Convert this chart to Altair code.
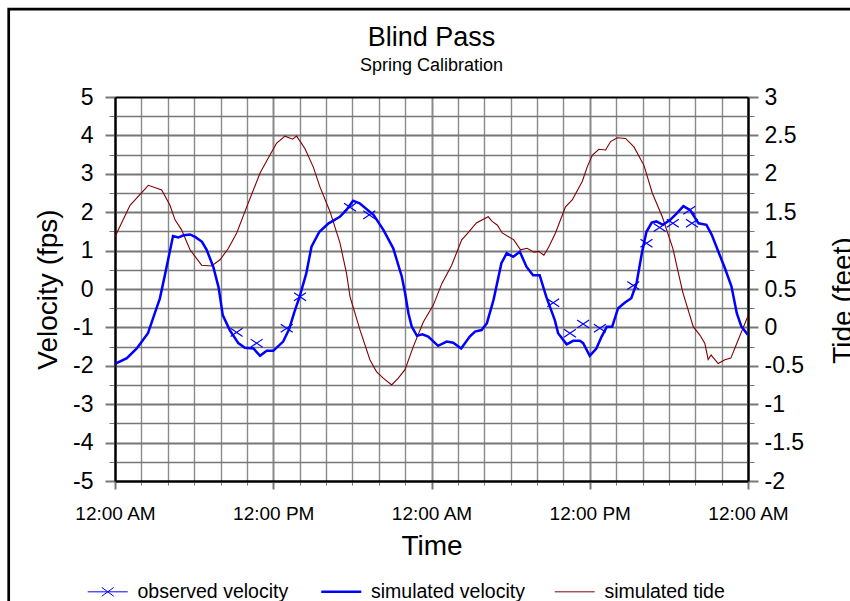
import altair as alt
import pandas as pd

FONT = "Liberation Sans"
START = pd.Timestamp("2004-03-09")

# simulated velocity (fps), hours from start
sim_vel_hours = [0.0, 0.9, 1.65, 2.5, 3.0, 3.4, 3.9, 4.4, 4.8, 5.2, 5.7, 6.1, 6.6, 6.95,
                 7.45, 7.85, 8.0, 8.17, 8.7, 9.35, 9.85, 10.5, 11.0, 11.5, 12.0, 12.75,
                 13.2, 13.6, 14.0, 14.5, 14.9, 15.5, 16.2, 17.05, 17.55, 18.05, 18.55,
                 19.6, 20.35, 21.1, 21.75, 22.0, 22.25, 22.5, 22.9, 23.3, 23.75, 24.5,
                 25.15, 25.65, 26.25, 26.9, 27.3, 27.8, 28.2, 28.7, 29.3, 29.7, 30.2,
                 30.7, 31.2, 31.7, 32.2, 32.7, 33.35, 33.6, 34.25, 34.75, 35.25, 35.5,
                 36.0, 36.5, 36.9, 37.3, 37.7, 38.15, 38.65, 39.15, 39.55, 39.95, 40.3,
                 40.7, 41.05, 41.55, 42.1, 42.6, 43.1, 43.6, 44.25, 44.85, 45.25, 46.25,
                 46.75, 47.15, 47.5, 48.0]
sim_vel = [-1.95, -1.80, -1.55, -1.15, -0.65, -0.25, 0.55, 1.38, 1.34, 1.40, 1.42, 1.35,
           1.23, 1.02, 0.58, 0.05, -0.29, -0.68, -1.07, -1.41, -1.53, -1.55, -1.74, -1.61,
           -1.61, -1.37, -1.05, -0.60, -0.20, 0.40, 1.10, 1.49, 1.71, 1.88, 2.06, 2.30,
           2.23, 1.93, 1.54, 1.06, 0.32, -0.11, -0.63, -0.98, -1.22, -1.18, -1.24, -1.48,
           -1.37, -1.40, -1.55, -1.24, -1.11, -1.07, -0.89, -0.29, 0.67, 0.93, 0.84, 0.97,
           0.58, 0.36, 0.36, -0.20, -0.81, -1.15, -1.44, -1.35, -1.35, -1.41, -1.74, -1.55,
           -1.24, -0.98, -0.98, -0.50, -0.36, -0.24, 0.15, 0.93, 1.49, 1.73, 1.76, 1.67,
           1.80, 1.97, 2.16, 2.06, 1.71, 1.67, 1.41, 0.54, 0.06, -0.63, -0.98, -1.20]

# simulated tide (feet)
tide_hours = [0.0, 1.14, 2.53, 3.54, 4.17, 4.55, 5.05, 5.69, 6.57, 7.33, 7.96, 8.6, 9.23,
              9.99, 11.0, 11.6, 12.26, 12.89, 13.47, 13.77, 14.4, 15.03, 15.54, 16.3,
              17.06, 17.56, 17.82, 18.57, 19.33, 19.84, 20.34, 20.98, 21.48, 21.99, 22.62,
              23.38, 24.14, 24.78, 25.53, 26.29, 26.77, 27.4, 28.3, 28.6, 29.0, 29.36,
              30.24, 30.75, 31.25, 31.76, 32.14, 32.52, 32.9, 33.4, 34.16, 34.67, 35.43,
              35.81, 36.19, 36.69, 37.2, 37.58, 38.09, 38.72, 39.35, 40.11, 40.74, 41.5,
              42.3, 43.05, 43.85, 44.35, 44.73, 44.98, 45.2, 45.74, 46.25, 46.7, 47.26, 48.0]
tide_ft = [1.18, 1.59, 1.85, 1.79, 1.59, 1.40, 1.27, 1.01, 0.81, 0.80, 0.88, 1.03, 1.23,
           1.57, 2.01, 2.20, 2.40, 2.49, 2.45, 2.49, 2.33, 2.09, 1.83, 1.51, 1.10, 0.70,
           0.40, -0.03, -0.42, -0.58, -0.66, -0.75, -0.66, -0.55, -0.25, 0.07, 0.29, 0.57,
           0.81, 1.14, 1.23, 1.36, 1.44, 1.38, 1.33, 1.23, 1.14, 1.01, 1.03, 0.98, 0.99,
           0.94, 1.05, 1.23, 1.57, 1.66, 1.90, 2.09, 2.24, 2.32, 2.31, 2.42, 2.47, 2.46,
           2.35, 2.11, 1.75, 1.44, 1.03, 0.46, 0.01, -0.10, -0.21, -0.42, -0.36, -0.47,
           -0.42, -0.40, -0.16, 0.15]

# observed velocity (fps)
obs_hours = [9.22, 10.74, 13.02, 14.03, 17.82, 19.28, 33.23, 34.5, 35.5, 36.77, 39.3,
             40.3, 41.3, 42.3, 43.55, 43.75]
obs_vel = [-1.13, -1.41, -1.02, -0.20, 2.13, 1.93, -0.36, -1.15, -0.91, -1.02, 0.09,
           1.19, 1.60, 1.71, 2.05, 1.71]

SERIES = ["observed velocity", "simulated velocity", "simulated tide"]
COLORS = ["#0000ff", "#0000ff", "#800000"]

vel_ticks = [v / 2 for v in range(-10, 11)]
tide_ticks = [t / 4 for t in range(-8, 13)]
time_ticks = [alt.DateTime(year=2004, month=3, date=9 + h // 24, hours=h % 24)
              for h in range(0, 49, 2)]


def stamps(hours):
    return [(START + pd.Timedelta(hours=h)).strftime("%Y-%m-%dT%H:%M:%S") for h in hours]


vel_df = pd.DataFrame({"time": stamps(sim_vel_hours), "value": sim_vel,
                       "series": "simulated velocity"})
obs_df = pd.DataFrame({"time": stamps(obs_hours), "value": obs_vel,
                       "series": "observed velocity"})
tide_df = pd.DataFrame({"time": stamps(tide_hours), "value": tide_ft,
                        "series": "simulated tide"})

GRID_MAJOR = "#777777"
GRID_MINOR = "#8a8a8a"

x_enc = alt.X(
    "time:T",
    scale=alt.Scale(domain=[time_ticks[0], time_ticks[-1]], nice=False),
    axis=alt.Axis(
        values=time_ticks,
        title="Time",
        titleFontSize=28,
        titleFontWeight="normal",
        titleX=316.5,
        titleY=73,
        titleAlign="center",
        titleBaseline="alphabetic",
        labelExpr="hours(datum.value) % 12 === 0 ? timeFormat(datum.value, '%I:%M %p') : ''",
        labelFontSize=19,
        labelPadding=15,
        labelFlush=False,
        labelOverlap=False,
        grid=True,
        gridColor={"condition": {"test": "datum.index === 0 || datum.index === 1",
                                 "value": "black"},
                   "value": GRID_MINOR},
        gridWidth={"condition": {"test": "hours(datum.value) % 12 === 0", "value": 2},
                   "value": 1.4},
        tickSize={"condition": {"test": "hours(datum.value) % 12 === 0", "value": 8},
                  "value": 4},
        tickWidth={"condition": {"test": "hours(datum.value) % 12 === 0", "value": 2},
                   "value": 1},
        tickColor=GRID_MAJOR,
        domainColor="black",
        domainWidth=2,
    ),
)

color_enc = alt.Color(
    "series:N",
    scale=alt.Scale(domain=SERIES, range=COLORS),
    legend=alt.Legend(
        title=None,
        orient="none",
        direction="horizontal",
        legendX=-17,
        legendY=484.7,
        padding=0,
        symbolType=alt.ExprRef(
            expr="datum.value === 'observed velocity' ? "
                 "'M-1,0H1M-0.3,-0.22L0.3,0.22M-0.3,0.22L0.3,-0.22' : 'stroke'"),
        symbolStrokeWidth=alt.ExprRef(
            expr="datum.value === 'simulated velocity' ? 2.5 : 1"),
        symbolSize=1600,
        labelOffset=20,
        columnPadding=26.5,
        labelFontSize=19.5,
        labelColor="black",
        labelLimit=400,
    ),
)

vel_axis = alt.Axis(
    orient="left",
    values=vel_ticks,
    title="Velocity (fps)",
    titleFontSize=28,
    titleFontWeight="normal",
    titleAngle=270,
    titleX=-59,
    titleY=192,
    titleAlign="center",
    titleBaseline="alphabetic",
    labelExpr="datum.value % 1 === 0 ? '' + datum.value : ''",
    labelFontSize=23,
    labelPadding=12,
    grid=True,
    gridColor={"condition": {"test": "datum.value === 5 || datum.value === -5",
                             "value": "black"},
               "value": GRID_MAJOR},
    gridWidth={"condition": {"test": "datum.value % 1 === 0", "value": 2.2}, "value": 1.6},
    tickSize={"condition": {"test": "datum.value % 1 === 0", "value": 10}, "value": 6},
    tickWidth={"condition": {"test": "datum.value % 1 === 0", "value": 2}, "value": 1},
    tickColor=GRID_MAJOR,
    domainColor="black",
    domainWidth=2,
)

tide_axis = alt.Axis(
    orient="right",
    values=tide_ticks,
    title="Tide (feet)",
    titleFontSize=28,
    titleFontWeight="normal",
    titleAngle=270,
    titleX=103,
    titleY=203,
    titleAlign="center",
    titleBaseline="alphabetic",
    labelExpr="(datum.value * 2) % 1 === 0 ? '' + datum.value : ''",
    labelFontSize=23,
    labelPadding=6,
    grid=False,
    tickSize={"condition": {"test": "(datum.value * 2) % 1 === 0", "value": 10},
              "value": 6},
    tickWidth={"condition": {"test": "(datum.value * 2) % 1 === 0", "value": 2},
               "value": 1},
    tickColor=GRID_MAJOR,
    domainColor="black",
    domainWidth=2,
)

vel_y = alt.Y("value:Q", scale=alt.Scale(domain=[-5, 5], nice=False, zero=False),
              axis=vel_axis)
tide_y = alt.Y("value:Q", scale=alt.Scale(domain=[-2, 3], nice=False, zero=False),
               axis=tide_axis)

sim_line = alt.Chart(vel_df).mark_line(strokeWidth=2.5).encode(
    x=x_enc, y=vel_y, color=color_enc)

obs_pts = alt.Chart(obs_df).mark_point(
    shape="M-1,-0.67L1,0.67M-1,0.67L1,-0.67", filled=False, size=144,
    strokeWidth=1.2, opacity=1,
).encode(x=x_enc, y=vel_y, color=color_enc)

# outer frame around the whole figure
frame = alt.Chart(pd.DataFrame({"k": [0]})).mark_rect(
    fill="transparent", stroke="black", strokeWidth=2.7,
).encode(x=alt.value(-106.3), x2=alt.value(790), y=alt.value(-87.8), y2=alt.value(560))

velocity = alt.layer(sim_line, obs_pts, frame)

tide = alt.Chart(tide_df).mark_line(strokeWidth=1.1).encode(
    x=x_enc, y=tide_y, color=color_enc)

chart = alt.layer(tide, velocity).resolve_scale(y="independent").properties(
    width=633,
    height=384,
    autosize=alt.AutoSizeParams(type="none"),
    padding={"left": 115, "top": 97, "right": 102, "bottom": 120},
    background="white",
    title=alt.TitleParams(
        text="Blind Pass",
        subtitle="Spring Calibration",
        font=FONT,
        subtitleFont=FONT,
        fontSize=27,
        subtitleFontSize=18,
        fontWeight="normal",
        color="black",
        subtitleColor="black",
        anchor="middle",
        offset=20,
        dy=88,
        subtitlePadding=5,
    ),
).configure(font=FONT).configure_view(stroke=None).configure_axis(
    labelFont=FONT, titleFont=FONT, labelColor="black", titleColor="black",
).configure_legend(labelFont=FONT)

chart.save("out.html", embed_options={"renderer": "svg", "actions": False})
